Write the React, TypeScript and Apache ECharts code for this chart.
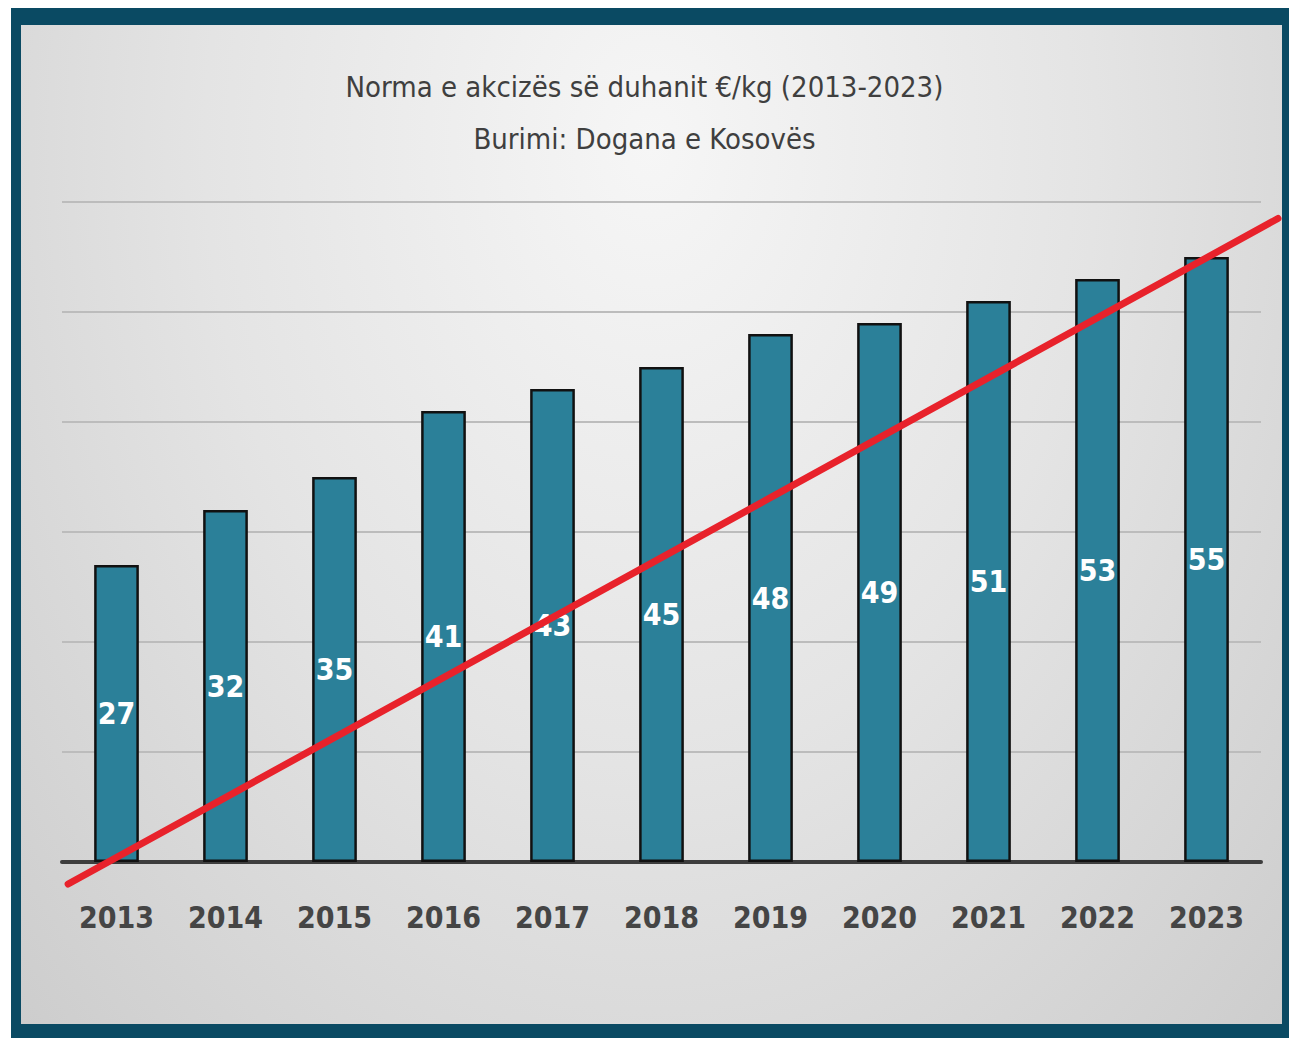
import React, { useEffect, useRef } from "react";
import * as echarts from "echarts";

const years = ["2013", "2014", "2015", "2016", "2017", "2018", "2019", "2020", "2021", "2022", "2023"];
const values = [27, 32, 35, 41, 43, 45, 48, 49, 51, 53, 55];
const trendX = [0.005, 0.991];
const trendY = [-2, 58.5];
const titleLines = ["Norma e akcizës së duhanit €/kg (2013-2023)", "Burimi: Dogana e Kosovës"];

const FONT = "'DejaVu Sans Condensed', 'Liberation Sans Narrow', sans-serif";

export default function App() {
  const ref = useRef<HTMLDivElement>(null);
  useEffect(() => {
    if (!ref.current) return;
    const chart = echarts.init(ref.current, undefined, { renderer: "svg" });
    chart.setOption({
      animation: false,
      backgroundColor: "transparent",
      title: {
        text: titleLines.join("\n"),
        left: "center",
        top: 56,
        textStyle: {
          fontFamily: FONT,
          fontSize: 29,
          fontWeight: "normal",
          color: "#3f3f3f",
          lineHeight: 52,
        },
      },
      grid: [
        { left: 62, right: 28, top: 202, bottom: 176, containLabel: false },
        { left: 62, right: 0, top: 202, bottom: 176, containLabel: false },
      ],
      xAxis: [
        {
          type: "category",
          data: years,
          gridIndex: 0,
          axisLine: { show: true, lineStyle: { color: "#3d3d3d", width: 4 } },
          axisTick: { show: false },
          axisLabel: {
            fontFamily: FONT,
            fontSize: 30,
            fontWeight: "bold",
            color: "#454545",
            margin: 40,
          },
        },
        { type: "value", gridIndex: 1, min: 0, max: 1, show: false },
      ],
      yAxis: [
        {
          type: "value",
          gridIndex: 0,
          min: 0,
          max: 60,
          interval: 10,
          axisLabel: { show: false },
          axisLine: { show: false },
          axisTick: { show: false },
          splitLine: { lineStyle: { color: "#bcbcbc", width: 2 } },
        },
        { type: "value", gridIndex: 1, min: 0, max: 60, interval: 10, show: false, splitLine: { show: false } },
      ],
      series: [
        {
          type: "bar",
          data: values,
          barWidth: "41%",
          itemStyle: { color: "#2b8099", borderColor: "#111", borderWidth: 2.5 },
          label: {
            show: true,
            position: "inside",
            color: "#ffffff",
            fontFamily: FONT,
            fontSize: 30,
            fontWeight: "bold",
          },
        },
        {
          type: "line",
          xAxisIndex: 1,
          yAxisIndex: 1,
          data: trendX.map((x, i) => [x, trendY[i]]),
          symbol: "none",
          clip: false,
          lineStyle: { color: "#e8222b", width: 7, cap: "round" },
          z: 5,
        },
      ],
    });
    return () => chart.dispose();
  }, []);
  return (
    <div style={{ position: "absolute", left: 0, top: 0, width: 1289, height: 1038, background: "#ffffff" }}>
      <div style={{ position: "absolute", left: 11, top: 8, width: 1278, height: 1030, background: "#0a4a63" }} />
      <div
        style={{
          position: "absolute",
          left: 21,
          top: 25,
          width: 1261,
          height: 999,
          background: "radial-gradient(ellipse at 50% 12%, #f6f6f6 0%, #e4e4e4 50%, #cdcdcd 100%)",
        }}
      />
      <div ref={ref} style={{ position: "absolute", left: 0, top: 0, width: 1289, height: 1038 }} />
    </div>
  );
}
